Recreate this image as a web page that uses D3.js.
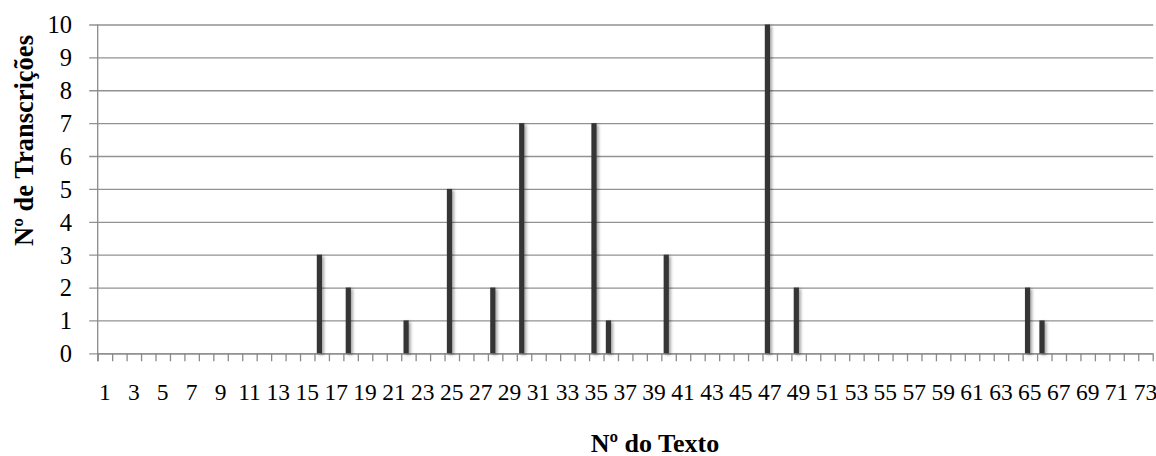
<!DOCTYPE html>
<html>
<head>
<meta charset="utf-8">
<script src="https://cdn.jsdelivr.net/npm/d3@7"></script>
<style>
  html, body { margin: 0; padding: 0; background: #fff; }
  svg { display: block; }
</style>
</head>
<body>
<svg id="chart" width="1156" height="456" font-family="Liberation Serif, DejaVu Serif, serif"></svg>
<script>
// ---- data ----
const categories = d3.range(1, 74).map(String); // Nº do Texto 1..73
const counts = [
  0,0,0,0,0,0,0,0,0,0,   // 1-10
  0,0,0,0,0,3,0,2,0,0,   // 11-20
  0,1,0,0,5,0,0,2,0,7,   // 21-30
  0,0,0,0,7,1,0,0,0,3,   // 31-40
  0,0,0,0,0,0,10,0,2,0,  // 41-50
  0,0,0,0,0,0,0,0,0,0,   // 51-60
  0,0,0,0,2,1,0,0,0,0,   // 61-70
  0,0,0                  // 71-73
];
const xTickLabels = categories.filter((d, i) => i % 2 === 0);
const yTicks = d3.range(0, 11);
const xTitle = "Nº do Texto";
const yTitle = "Nº de Transcrições";

// ---- layout ----
const FONT = "Liberation Serif, DejaVu Serif, serif";
const svg = d3.select("#chart");
const mLeft = 97.7, mRight = 1152.7, mTop = 24.5, mBottom = 353.3;

const x = d3.scaleBand().domain(categories).range([mLeft, mRight]).padding(0);
const xb = d3.scaleLinear().domain([0, categories.length]).range([mLeft, mRight]);
const y = d3.scaleLinear().domain([0, 10]).range([mBottom, mTop]);

const defs = svg.append("defs");
const f = defs.append("filter").attr("id", "shadow")
  .attr("x", "-50%").attr("y", "-10%").attr("width", "250%").attr("height", "130%");
f.append("feDropShadow").attr("dx", 2).attr("dy", 1.5).attr("stdDeviation", 1.6)
  .attr("flood-color", "#000").attr("flood-opacity", 0.35);

// gridlines (extend left as tick marks)
svg.append("g")
  .attr("transform", `translate(${mLeft},0)`)
  .call(d3.axisLeft(y).tickValues(yTicks).tickSize(-(mRight - mLeft) - 0.5).tickFormat(""))
  .call(g => g.select(".domain").remove())
  .call(g => g.selectAll(".tick line").attr("stroke", "#929292").attr("stroke-width", 1.3).attr("x1", -8.5));

// y axis line
svg.append("line")
  .attr("x1", mLeft).attr("x2", mLeft).attr("y1", mTop).attr("y2", mBottom + 8)
  .attr("stroke", "#8a8a8a").attr("stroke-width", 1.3);

// y tick labels
svg.append("g")
  .attr("transform", `translate(${mLeft},0)`)
  .call(d3.axisLeft(y).tickValues(yTicks).tickSize(0).tickPadding(25.7).tickFormat(d3.format("d")))
  .attr("font-family", FONT).attr("font-size", 24.5)
  .call(g => g.select(".domain").remove())
  .call(g => g.selectAll("text").attr("fill", "#000").attr("dy", "0.34em"));

// x boundary ticks
svg.append("g")
  .attr("transform", `translate(0,${mBottom})`)
  .call(d3.axisBottom(xb).tickValues(d3.range(0, categories.length + 1)).tickSize(8).tickFormat(""))
  .call(g => g.select(".domain").attr("stroke", "#8a8a8a").attr("stroke-width", 1.3).attr("d", `M${mLeft},0.5H${mRight}`))
  .call(g => g.selectAll(".tick line").attr("stroke", "#8a8a8a").attr("stroke-width", 1.3));

// x labels
svg.append("g")
  .attr("transform", `translate(0,${mBottom})`)
  .call(d3.axisBottom(x).tickValues(xTickLabels).tickSize(0))
  .attr("font-family", FONT).attr("font-size", 23.5)
  .call(g => g.select(".domain").remove())
  .call(g => g.selectAll("text").attr("fill", "#000").attr("y", 46.5).attr("dy", 0));

// bars
const bw = x.bandwidth();
svg.append("g").selectAll("rect")
  .data(categories.map((c, i) => ({ c, v: counts[i] })).filter(d => d.v > 0))
  .join("rect")
  .attr("x", d => x(d.c) + bw * 0.16)
  .attr("width", bw * 0.36)
  .attr("y", d => y(d.v))
  .attr("height", d => y(0) - y(d.v))
  .attr("fill", "#353535")
  .attr("filter", "url(#shadow)");

// titles
svg.append("text")
  .attr("x", 655).attr("y", 451.5)
  .attr("text-anchor", "middle")
  .attr("font-family", FONT).attr("font-size", 26).attr("font-weight", "bold")
  .text(xTitle);

svg.append("text")
  .attr("transform", "translate(33,140.5) rotate(-90)")
  .attr("text-anchor", "middle")
  .attr("font-family", FONT).attr("font-size", 26.5).attr("font-weight", "bold")
  .text(yTitle);
</script>
</body>
</html>
